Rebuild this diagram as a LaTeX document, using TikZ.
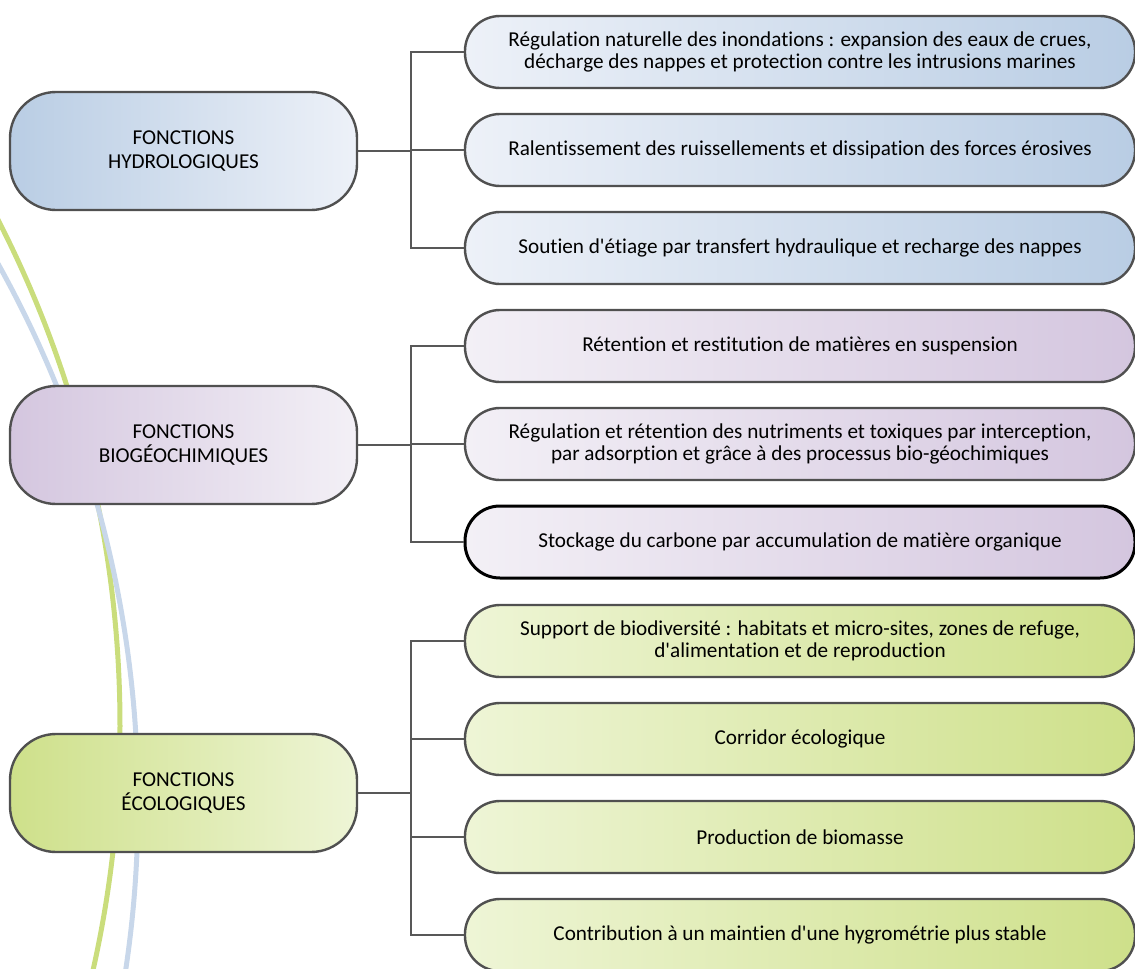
\documentclass[tikz,border=0pt]{standalone}
\usepackage{fontspec}
\setmainfont{Carlito}[Ligatures={TeXOff,NoCommon}]
\definecolor{hydroD}{HTML}{B9CDE4}
\definecolor{hydroL}{HTML}{EDF1F8}
\definecolor{bioD}{HTML}{D4C6DF}
\definecolor{bioL}{HTML}{F3F0F6}
\definecolor{ecoD}{HTML}{CEE08A}
\definecolor{ecoL}{HTML}{EEF5D6}
\definecolor{boxline}{HTML}{505050}
\definecolor{connline}{HTML}{585858}
\definecolor{arcgreen}{HTML}{CADD7C}
\definecolor{arcblue}{HTML}{C8D7EA}
\begin{document}
\begin{tikzpicture}[x=0.5pt,y=-0.5pt,
    mainbox/.style={draw=boxline, line width=1.2pt, rounded corners=23pt,
      minimum width=173.5pt, minimum height=59pt, align=center,
      font=\fontsize{10.6}{12}\selectfont},
    itembox/.style={draw=boxline, line width=1.2pt, rounded corners=17.5pt,
      minimum width=335pt, minimum height=36pt, align=center,
      font=\fontsize{10.6}{11}\selectfont},
    conn/.style={draw=connline, line width=1.25pt}]
    \useasboundingbox (0,0) rectangle (1135,969);

    % Background arcs
    \draw[arcgreen, line width=2.5pt] (-989,726) circle[radius=1109];
    \draw[arcblue, line width=2.5pt] (-973,804) circle[radius=1111];

    % Hydrological functions
    \node[mainbox, left color=hydroD, right color=hydroL] (hyd) at (183.5,151) {FONCTIONS\\HYDROLOGIQUES};
    \node[itembox, left color=hydroL, right color=hydroD] (h1) at (800,52)
      {Régulation naturelle des inondations : expansion des eaux de crues,\\décharge des nappes et protection contre les intrusions marines};
    \node[itembox, left color=hydroL, right color=hydroD] (h2) at (800,150)
      {Ralentissement des ruissellements et dissipation des forces érosives};
    \node[itembox, left color=hydroL, right color=hydroD] (h3) at (800,248)
      {Soutien d'étiage par transfert hydraulique et recharge des nappes};
    \foreach \i in {1,2,3}
      \draw[conn] (hyd.east) -- ++(53,0) |- (h\i.west);

    % Biogeochemical functions
    \node[mainbox, left color=bioD, right color=bioL] (bio) at (183.5,445) {FONCTIONS\\BIOGÉOCHIMIQUES};
    \node[itembox, left color=bioL, right color=bioD] (b1) at (800,346)
      {Rétention et restitution de matières en suspension};
    \node[itembox, left color=bioL, right color=bioD] (b2) at (800,444)
      {Régulation et rétention des nutriments et toxiques par interception,\\par adsorption et grâce à des processus bio-géochimiques};
    \node[itembox, left color=bioL, right color=bioD, draw=black, line width=1.5pt] (b3) at (800,542)
      {Stockage du carbone par accumulation de matière organique};
    \foreach \i in {1,2,3}
      \draw[conn] (bio.east) -- ++(53,0) |- (b\i.west);

    % Ecological functions
    \node[mainbox, left color=ecoD, right color=ecoL] (eco) at (183.5,793) {FONCTIONS\\ÉCOLOGIQUES};
    \node[itembox, left color=ecoL, right color=ecoD] (e1) at (800,641)
      {Support de biodiversité : habitats et micro-sites, zones de refuge,\\d'alimentation et de reproduction};
    \node[itembox, left color=ecoL, right color=ecoD] (e2) at (800,739)
      {Corridor écologique};
    \node[itembox, left color=ecoL, right color=ecoD] (e3) at (800,837)
      {Production de biomasse};
    \node[itembox, left color=ecoL, right color=ecoD] (e4) at (800,935)
      {Contribution à un maintien d'une hygrométrie plus stable};
    \foreach \i in {1,2,3,4}
      \draw[conn] (eco.east) -- ++(53,0) |- (e\i.west);
\end{tikzpicture}
\end{document}
